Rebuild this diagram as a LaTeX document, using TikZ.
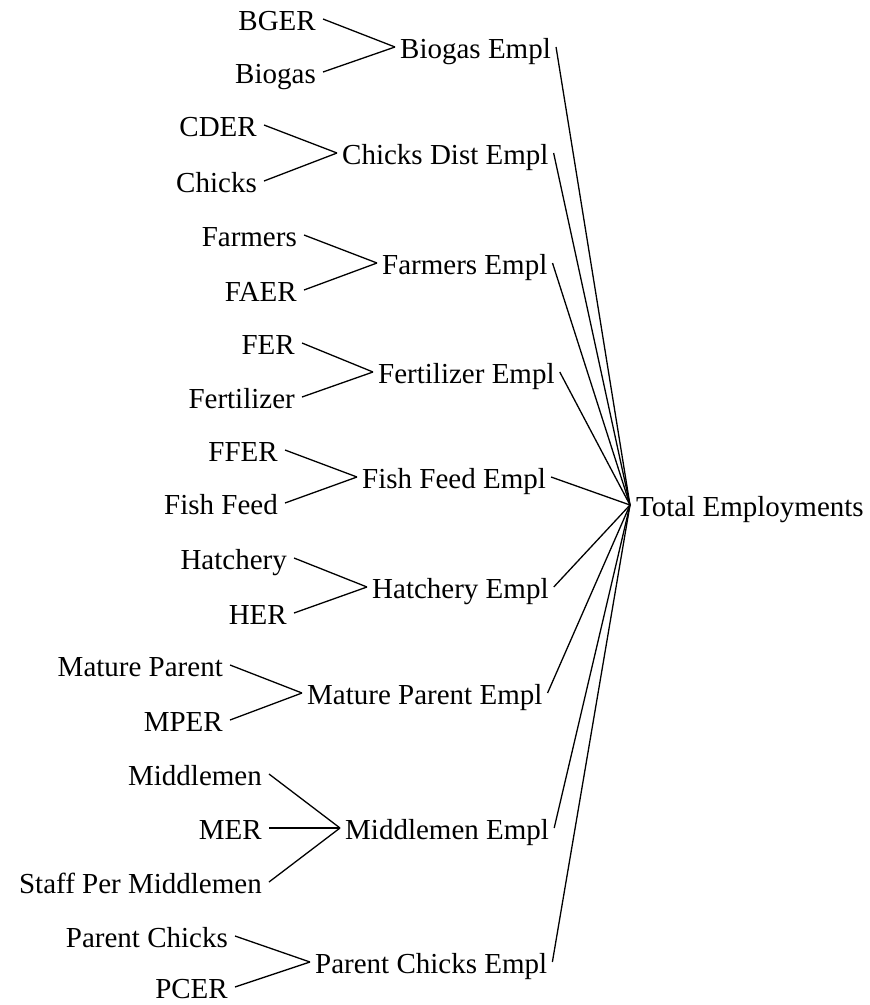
\documentclass[tikz,border=0pt]{standalone}
\usepackage{fontspec}
\setmainfont{Liberation Serif}
\newfontfamily\vensimfont{Liberation Serif}

\tikzset{
  var/.style={font=\vensimfont\fontsize{29}{31}\selectfont, inner ysep=0pt,
    text height=23pt, text depth=0pt},
  cause/.style={var, anchor=east, inner xsep=7pt},
  effect/.style={var, anchor=west, inner xsep=5pt},
  link/.style={line width=1.3pt},
}

\begin{document}
\begin{tikzpicture}[x=1pt, y=-1pt]
\useasboundingbox (0,0) rectangle (870,1005);
    % Causes of each employment variable
\node[cause] (bger)         at (323,19)  {BGER};
\node[cause] (biogas)       at (323,72)  {Biogas};
\node[cause] (cder)         at (264,125) {CDER};
\node[cause] (chicks)       at (264,181) {Chicks};
\node[cause] (farmers)      at (304,235) {Farmers};
\node[cause] (faer)         at (304,290) {FAER};
\node[cause] (fer)          at (302,343) {FER};
\node[cause] (fertilizer)   at (302,397) {Fertilizer};
\node[cause] (ffer)         at (285,450) {FFER};
\node[cause] (fishfeed)     at (285,503) {Fish Feed};
\node[cause] (hatchery)     at (294,558) {Hatchery};
\node[cause] (her)          at (294,613) {HER};
\node[cause] (matureparent) at (230,665) {Mature Parent};
\node[cause] (mper)         at (230,720) {MPER};
\node[cause] (middlemen)    at (269,774) {Middlemen};
\node[cause] (mer)          at (269,828) {MER};
\node[cause] (staff)        at (269,882) {Staff Per Middlemen};
\node[cause] (parentchicks) at (235,936) {Parent Chicks};
\node[cause] (pcer)         at (235,987) {PCER};
    % Employment per activity
\node[effect] (biogasempl)       at (395,47)  {Biogas Empl};
\node[effect] (chicksdistempl)   at (337,153) {Chicks Dist Empl};
\node[effect] (farmersempl)      at (377,263) {Farmers Empl};
\node[effect] (fertilizerempl)   at (373,372) {Fertilizer Empl};
\node[effect] (fishfeedempl)     at (357,477) {Fish Feed Empl};
\node[effect] (hatcheryempl)     at (367,587) {Hatchery Empl};
\node[effect] (matureparentempl) at (302,693) {Mature Parent Empl};
\node[effect] (middlemenempl)    at (340,828) {Middlemen Empl};
\node[effect] (parentchicksempl) at (310,962) {Parent Chicks Empl};
\node[var, anchor=west, inner xsep=6pt] (total) at (630,505) {Total Employments};
    % Tree links
\foreach \a/\b in {bger/biogasempl, biogas/biogasempl,
    cder/chicksdistempl, chicks/chicksdistempl,
    farmers/farmersempl, faer/farmersempl,
    fer/fertilizerempl, fertilizer/fertilizerempl,
    ffer/fishfeedempl, fishfeed/fishfeedempl,
    hatchery/hatcheryempl, her/hatcheryempl,
    matureparent/matureparentempl, mper/matureparentempl,
    middlemen/middlemenempl, mer/middlemenempl, staff/middlemenempl,
    parentchicks/parentchicksempl, pcer/parentchicksempl}
  \draw[link] (\a.east) -- (\b.west);
\foreach \a in {biogasempl,chicksdistempl,farmersempl,fertilizerempl,
    fishfeedempl,hatcheryempl,matureparentempl,middlemenempl,parentchicksempl}
  \draw[link] (\a.east) -- (total.west);
\end{tikzpicture}
\end{document}
